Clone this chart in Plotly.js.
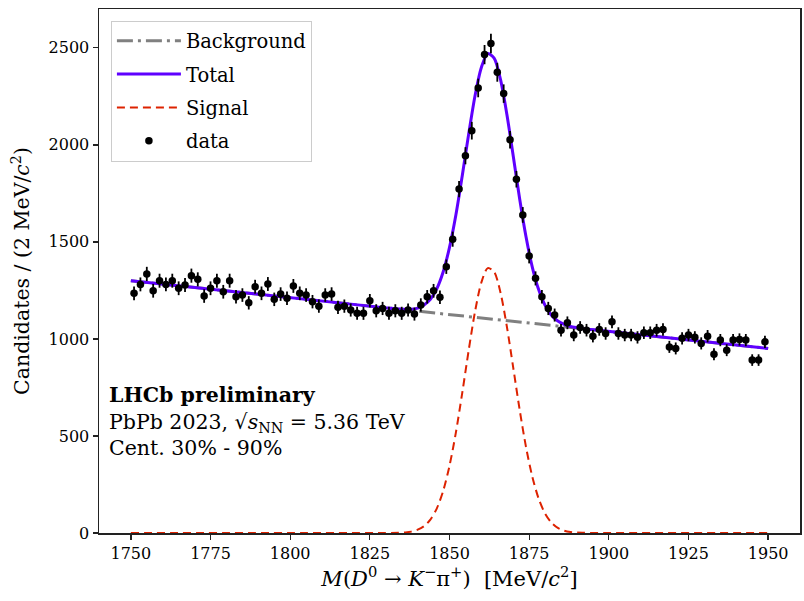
<!DOCTYPE html>
<html>
<head>
<meta charset="utf-8">
<script src="https://cdn.plot.ly/plotly-3.0.1.min.js"></script>
<style>
  html, body { margin: 0; padding: 0; background: #fff; }
  #chart { width: 804px; height: 601px; }
</style>
</head>
<body>
<div id="chart"></div>
<script>
// D0 -> K- pi+ invariant mass fit, PbPb 2023

// bin centres, 2 MeV bins
var massBins = [
  1751, 1753, 1755, 1757, 1759, 1761, 1763, 1765, 1767, 1769,
  1771, 1773, 1775, 1777, 1779, 1781, 1783, 1785, 1787, 1789,
  1791, 1793, 1795, 1797, 1799, 1801, 1803, 1805, 1807, 1809,
  1811, 1813, 1815, 1817, 1819, 1821, 1823, 1825, 1827, 1829,
  1831, 1833, 1835, 1837, 1839, 1841, 1843, 1845, 1847, 1849,
  1851, 1853, 1855, 1857, 1859, 1861, 1863, 1865, 1867, 1869,
  1871, 1873, 1875, 1877, 1879, 1881, 1883, 1885, 1887, 1889,
  1891, 1893, 1895, 1897, 1899, 1901, 1903, 1905, 1907, 1909,
  1911, 1913, 1915, 1917, 1919, 1921, 1923, 1925, 1927, 1929,
  1931, 1933, 1935, 1937, 1939, 1941, 1943, 1945, 1947, 1949
];

var candidates = [
  1235, 1281, 1335, 1248, 1300, 1281, 1300, 1261, 1278, 1326,
  1307, 1221, 1261, 1300, 1243, 1300, 1217, 1226, 1186, 1269,
  1235, 1283, 1204, 1231, 1209, 1273, 1235, 1226, 1192, 1169,
  1226, 1231, 1163, 1169, 1149, 1132, 1132, 1197, 1145, 1157,
  1132, 1145, 1132, 1149, 1128, 1175, 1217, 1248, 1215, 1372,
  1514, 1772, 1944, 2073, 2293, 2465, 2522, 2374, 2264, 2026,
  1823, 1639, 1427, 1312, 1217, 1157, 1123, 1045, 1083, 1020,
  1059, 1045, 1014, 1049, 1028, 1088, 1028, 1020, 1020, 1008,
  1032, 1032, 1045, 1049, 959, 951, 1003, 1020, 1008, 977,
  1014, 921, 994, 942, 994, 997, 994, 891, 891, 985
];

// fit curves
var curveMass = [
  1750, 1830,
  1834, 1836, 1838, 1840, 1842, 1844, 1846, 1848, 1850, 1852,
  1854, 1856, 1858, 1860, 1862, 1864, 1866, 1868, 1870, 1872,
  1874, 1876, 1878, 1880, 1882, 1884, 1886, 1888, 1890, 1892,
  1896, 1950
];

var totalFit = [
  1300, 1160,
  1154, 1153, 1153, 1159, 1175, 1204, 1258, 1345, 1472, 1639,
  1841, 2054, 2252, 2399, 2470, 2447, 2337, 2158, 1943, 1724,
  1528, 1369, 1253, 1173, 1122, 1092, 1075, 1064, 1058, 1053,
  1046, 951
];

var signalFit = [
  0, 0,
  1, 3, 7, 17, 35, 69, 126, 216, 346, 517,
  722, 939, 1140, 1291, 1365, 1346, 1239, 1064, 852, 637,
  444, 289, 176, 100, 53, 26, 12, 5, 2, 1,
  0, 0
];

var bkgMass = [1750, 1950];
var bkgFit = [1300, 951];

var xTicks = [1750, 1775, 1800, 1825, 1850, 1875, 1900, 1925, 1950];
var yTicks = [0, 500, 1000, 1500, 2000, 2500];

var FONT = 'DejaVu Serif, serif';

var traces = [
  {
    type: 'scatter', mode: 'lines', name: 'Background', legendgroup: 'g1',
    x: bkgMass, y: bkgFit,
    line: { color: '#808080', width: 3, dash: '16px,5px,3px,5px' }
  },
  {
    type: 'scatter', mode: 'lines', name: 'Total', legendgroup: 'g2',
    x: curveMass, y: totalFit,
    line: { color: '#5f00ff', width: 3, shape: 'spline', smoothing: 0.8 }
  },
  {
    type: 'scatter', mode: 'lines', name: 'Signal', legendgroup: 'g3',
    x: curveMass, y: signalFit,
    line: { color: '#dd2200', width: 2, dash: '8px,5px', shape: 'spline', smoothing: 0.8 }
  },
  {
    type: 'scatter', mode: 'markers', name: 'data', legendgroup: 'g4',
    x: massBins, y: candidates,
    marker: { color: '#000', size: 7.5 },
    error_y: { type: 'sqrt', color: '#000', thickness: 1.8, width: 0 }
  }
];

var axisCommon = {
  showline: true, mirror: true, linecolor: '#222', linewidth: 1.5,
  ticks: 'outside', ticklen: 5, tickwidth: 1.3, tickcolor: '#222',
  showgrid: false, zeroline: false, automargin: false,
  tickfont: { family: FONT, size: 16, color: '#000' },
  layer: 'below traces'
};

var layout = {
  width: 804, height: 601,
  margin: { l: 99, r: 4, t: 9, b: 68 },
  paper_bgcolor: '#fff', plot_bgcolor: '#fff',
  font: { family: FONT, color: '#000' },
  showlegend: true,
  legend: {
    x: 0.017, y: 0.978, xanchor: 'left', yanchor: 'top',
    traceorder: 'grouped', tracegroupgap: 5, itemwidth: 64,
    bgcolor: 'rgba(255,255,255,0.85)', bordercolor: '#cccccc', borderwidth: 1,
    font: { family: FONT, size: 19.5, color: '#000' }
  },
  xaxis: Object.assign({}, axisCommon, {
    range: [1740, 1960], tickvals: xTicks,
    title: {
      text: '<i>M</i>(<i>D</i><sup>0</sup> → <i>K</i><sup>−</sup>π<sup>+</sup>)  [MeV/<i>c</i><sup>2</sup>]',
      font: { family: FONT, size: 21, color: '#000' }, standoff: 7
    }
  }),
  yaxis: Object.assign({}, axisCommon, {
    range: [0, 2700], tickvals: yTicks,
    title: {
      text: 'Candidates / (2 MeV/<i>c</i><sup>2</sup>)',
      font: { family: FONT, size: 20.5, color: '#000' }, standoff: 13
    }
  }),
  annotations: [{
    xref: 'paper', yref: 'paper', x: 0.012, y: 0.29,
    xanchor: 'left', yanchor: 'top', align: 'left', showarrow: false,
    font: { family: FONT, size: 20.5, color: '#000' },
    text: '<b>LHCb preliminary</b><br>PbPb 2023, √<i>s</i><sub>NN</sub> = 5.36 TeV<br>Cent. 30% - 90%'
  }]
};

Plotly.newPlot('chart', traces, layout, { displayModeBar: false, staticPlot: true });
</script>
</body>
</html>
